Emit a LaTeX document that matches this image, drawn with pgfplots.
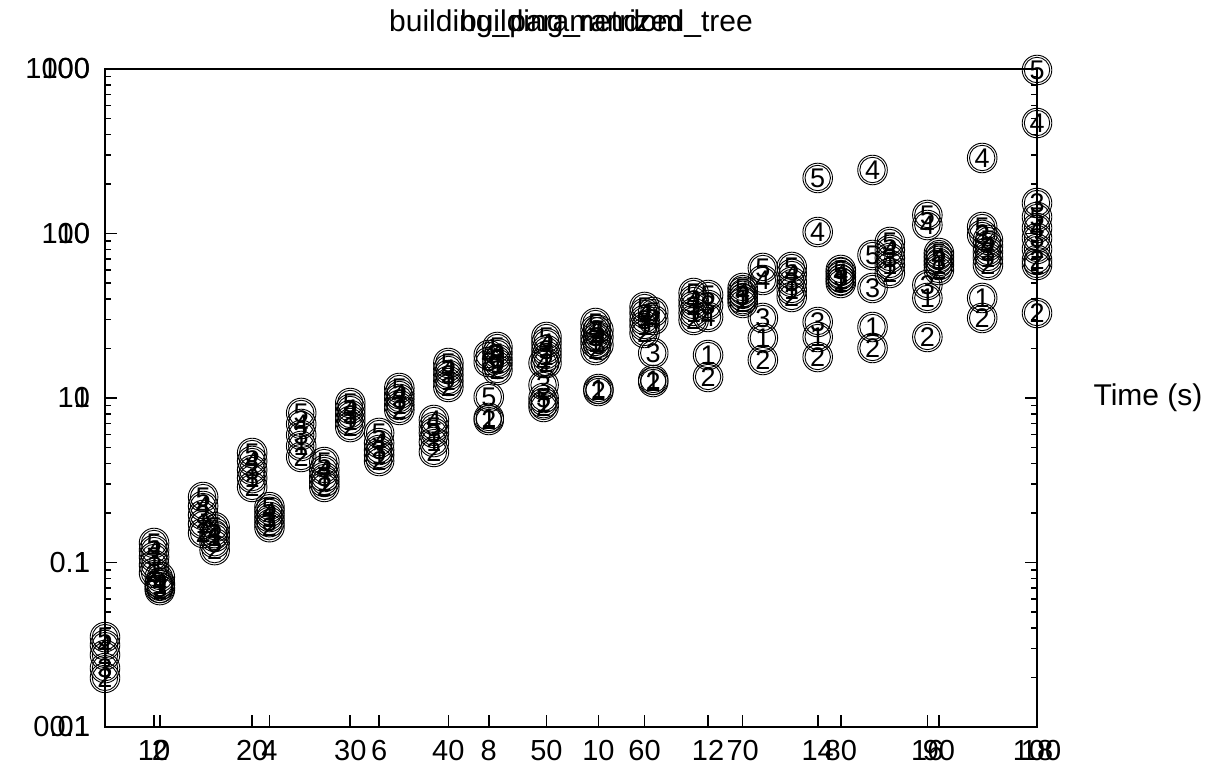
\documentclass[border=0pt]{standalone}
\usepackage{pgfplots}
\usepackage{pgfplotstable}
\pgfplotsset{compat=1.18}
\usepackage{fontspec}
\setmainfont{Liberation Sans}

% double circle mark, gnuplot style
\pgfdeclareplotmark{dcirc}{%
  \pgfpathcircle{\pgfpointorigin}{\pgfplotmarksize}\pgfusepathqstroke
  \pgfpathcircle{\pgfpointorigin}{0.86\pgfplotmarksize}\pgfusepathqstroke}

% building_parametrized_tree
\pgfplotstableread{
x y lab
10 1.314 5
10 1.191 4
10 1.080 3
10 0.966 1
10 0.864 2
15 2.501 5
15 2.205 4
15 1.945 3
15 1.714 1
15 1.511 2
20 4.63 5
20 4.14 4
20 3.65 3
20 3.26 1
20 2.88 2
25 8.11 5
25 6.95 4
25 5.96 3
25 5.11 1
25 4.38 2
30 9.32 5
30 8.57 4
30 7.88 3
30 7.25 1
30 6.66 2
35 11.50 5
35 10.58 4
35 9.86 3
35 9.07 1
35 8.46 2
40 16.32 5
40 15.01 4
40 13.80 3
40 12.69 1
40 11.67 2
45 20.42 5
45 18.77 4
45 17.26 3
45 16.09 1
45 14.80 2
50 23.49 5
50 21.59 4
50 19.57 3
50 18.00 1
50 16.32 2
55 28.57 5
55 25.91 4
55 23.49 3
55 21.59 1
55 19.57 2
60 35.75 5
60 32.86 4
60 29.81 3
60 27.40 1
60 24.85 2
65 43.48 5
65 39.42 4
65 36.25 3
65 32.86 1
65 29.81 2
70 46.64 5
70 44.10 4
70 41.70 3
70 39.98 1
70 37.81 2
75 62.59 5
75 56.74 4
75 50.72 3
75 45.34 1
75 41.12 2
80 60.00 5
80 57.54 4
80 54.39 3
80 52.16 1
80 50.02 2
85 88.79 5
85 79.38 4
85 70.98 3
85 64.35 1
85 57.54 2
90 76.12 5
90 71.96 4
90 68.05 3
90 64.35 1
90 60.00 2
95 91.32 5
95 83.95 4
95 77.18 3
95 70.98 1
95 64.35 2
100 126.0 5
100 108.0 4
100 93.89 3
100 80.50 1
100 69.01 2
}\treedata

% building_random
\pgfplotstableread{
x y lab
1 0.0352 5
1 0.0315 4
1 0.0274 1
1 0.0228 3
1 0.0199 2
2 0.0816 5
2 0.0750 4
2 0.0730 1
2 0.0700 3
2 0.0680 2
3 0.164 5
3 0.151 4
3 0.143 1
3 0.131 3
3 0.119 2
4 0.217 5
4 0.203 4
4 0.189 1
4 0.176 3
4 0.164 2
5 0.408 5
5 0.365 4
5 0.331 3
5 0.309 1
5 0.288 2
6 0.613 5
6 0.532 4
6 0.483 3
6 0.450 1
6 0.414 2
7 0.735 4
7 0.666 5
7 0.613 3
7 0.540 1
7 0.470 2
8 1.825 4
8 1.655 3
8 1.014 5
8 0.756 1
8 0.735 2
9 1.632 4
9 1.200 3
9 1.000 5
9 0.932 1
9 0.882 2
10 2.591 5
10 2.349 4
10 2.100 3
10 1.134 1
10 1.103 2
11 3.333 5
11 2.981 4
11 1.877 3
11 1.287 1
11 1.251 2
12 4.228 5
12 3.676 3
12 3.108 4
12 1.825 1
12 1.342 2
13 6.171 5
13 5.216 4
13 3.065 3
13 2.316 1
13 1.702 2
14 21.75 5
14 10.21 4
14 2.897 3
14 2.349 1
14 1.775 2
15 24.32 4
15 7.401 5
15 4.664 3
15 2.701 1
15 2.014 2
16 12.96 5
16 11.26 4
16 4.864 3
16 4.055 1
16 2.349 2
17 28.77 4
17 10.95 5
17 9.793 3
17 4.055 1
17 3.065 2
18 98.6 5
18 46.96 4
18 15.32 3
18 6.435 1
18 3.286 2
}\randomdata

\pgfplotsset{
  gp/.style={
    scale only axis, width=466pt, height=329pt,
    clip=false,
    axis line style={line width=1pt},
    tick align=inside, xtick pos=bottom, ytick pos=both,
    major tick length=6pt, minor tick length=3pt,
    every tick/.style={black, line width=0.8pt},
    tick label style={font=\fontsize{14.5}{17}\selectfont},
    /pgf/number format/assume math mode=true,
    yticklabel style={xshift=-4pt},
    xticklabel style={yshift=-3pt},
  },
  circ/.style={
    only marks, mark=dcirc, mark size=7.4pt,
    mark options={line width=0.45pt, black},
    point meta=explicit symbolic,
    nodes near coords, nodes near coords align={anchor=center},
    every node near coord/.append style={font=\fontsize{13.5}{13.5}\selectfont, inner sep=0pt, black},
  },
}

\begin{document}
\begin{tikzpicture}
\begin{axis}[gp, ymode=log,
    xmin=5, xmax=100,
    xtick={10,20,...,100},
    ymin=0.1, ymax=1000,
    ytick={0.1,1,10,100,1000},
    yticklabels={0.1,1,10,100,1000},
]
\coordinate (bl) at (rel axis cs:0,0);
\coordinate (tr) at (rel axis cs:1,1);
\addplot[circ] table[x=x, y=y, meta=lab] {\treedata};
\node[anchor=base, yshift=18.5pt, font=\fontsize{15}{18}\selectfont] at (rel axis cs:0.5,1) {building\_parametrized\_tree};
\node[font=\fontsize{15}{18}\selectfont] at ([xshift=55.5pt]rel axis cs:1,0.5) {Time (s)};
\end{axis}
\begin{axis}[gp, ymode=log,
    xmin=1, xmax=18,
    xtick={2,4,...,18},
    ymin=0.01, ymax=100,
    ytick={0.01,0.1,1,10,100},
    yticklabels={0.01,0.1,1,10,100},
]
\addplot[circ] table[x=x, y=y, meta=lab] {\randomdata};
\node[anchor=base, yshift=18.5pt, font=\fontsize{15}{18}\selectfont] at (rel axis cs:0.5,1) {building\_random};
\end{axis}
\path ([shift={(-52.5pt,-24pt)}]bl) rectangle ([shift={(95.5pt,34.5pt)}]tr);
\end{tikzpicture}
\end{document}
